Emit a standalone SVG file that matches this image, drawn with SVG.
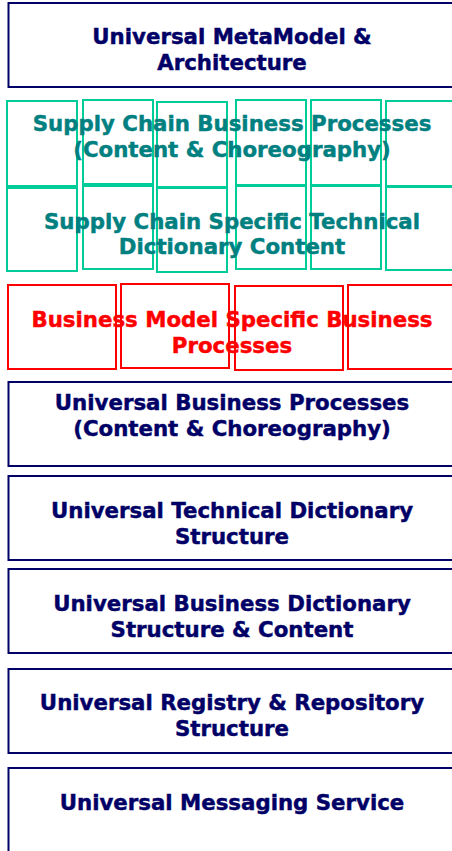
<svg xmlns="http://www.w3.org/2000/svg" width="452" height="851" viewBox="0 0 452 851">
<style>
text{font-family:"DejaVu Sans","Verdana",sans-serif;font-weight:bold;font-size:21.3px;text-anchor:middle;stroke-width:0.45}
.nv{fill:none;stroke:#000066;stroke-width:2}
.gr{fill:none;stroke:#00CC99;stroke-width:2}
.rd{fill:none;stroke:#FF0000;stroke-width:2}
.tn{fill:#000066;stroke:#000066}
.tg{fill:#008080;stroke:#008080}
.tr{fill:#FF0000;stroke:#FF0000}
</style>
<rect width="452" height="851" fill="#ffffff"/>
<g id="metamodel">
<rect class="nv" x="8.5" y="3" width="460" height="84"/>
<text class="tn" x="232" y="44">Universal MetaModel &amp;</text>
<text class="tn" x="232" y="70">Architecture</text>
</g>
<g id="supply-chain-grid">
<rect class="gr" x="7" y="101" width="70" height="85"/>
<rect class="gr" x="83" y="100" width="70" height="84"/>
<rect class="gr" x="157" y="102" width="70" height="85"/>
<rect class="gr" x="236" y="100" width="70" height="85"/>
<rect class="gr" x="311" y="100" width="70" height="85"/>
<rect class="gr" x="386" y="101" width="80" height="85"/>
<rect class="gr" x="7" y="188" width="70" height="83"/>
<rect class="gr" x="83" y="186" width="70" height="83"/>
<rect class="gr" x="157" y="188" width="70" height="84"/>
<rect class="gr" x="236" y="186" width="70" height="83"/>
<rect class="gr" x="311" y="186" width="70" height="83"/>
<rect class="gr" x="386" y="187" width="80" height="83"/>
</g>
<g id="supply-chain-processes">
<text class="tg" x="232" y="131">Supply Chain Business Processes</text>
<text class="tg" x="232" y="157">(Content &amp; Choreography)</text>
</g>
<g id="supply-chain-dictionary">
<text class="tg" x="232" y="229">Supply Chain Specific Technical</text>
<text class="tg" x="232" y="254">Dictionary Content</text>
</g>
<g id="business-model-processes">
<rect class="rd" x="8" y="285" width="108" height="84"/>
<rect class="rd" x="121" y="284" width="108" height="84"/>
<rect class="rd" x="235" y="286" width="108" height="84"/>
<rect class="rd" x="348" y="285" width="112" height="84"/>
<text class="tr" x="232" y="327">Business Model Specific Business</text>
<text class="tr" x="232" y="353">Processes</text>
</g>
<g id="universal-business-processes">
<rect class="nv" x="8.5" y="382" width="460" height="84"/>
<text class="tn" x="232" y="410">Universal Business Processes</text>
<text class="tn" x="232" y="436">(Content &amp; Choreography)</text>
</g>
<g id="universal-technical-dictionary">
<rect class="nv" x="8.5" y="476" width="460" height="84"/>
<text class="tn" x="232" y="518">Universal Technical Dictionary</text>
<text class="tn" x="232" y="544">Structure</text>
</g>
<g id="universal-business-dictionary">
<rect class="nv" x="8.5" y="569" width="460" height="84"/>
<text class="tn" x="232" y="611">Universal Business Dictionary</text>
<text class="tn" x="232" y="637">Structure &amp; Content</text>
</g>
<g id="universal-registry">
<rect class="nv" x="8.5" y="669" width="460" height="84"/>
<text class="tn" x="232" y="710">Universal Registry &amp; Repository</text>
<text class="tn" x="232" y="736">Structure</text>
</g>
<g id="universal-messaging">
<rect class="nv" x="8.5" y="768" width="460" height="100"/>
<text class="tn" x="232" y="810">Universal Messaging Service</text>
</g>
<g id="connectors"/>
</svg>
